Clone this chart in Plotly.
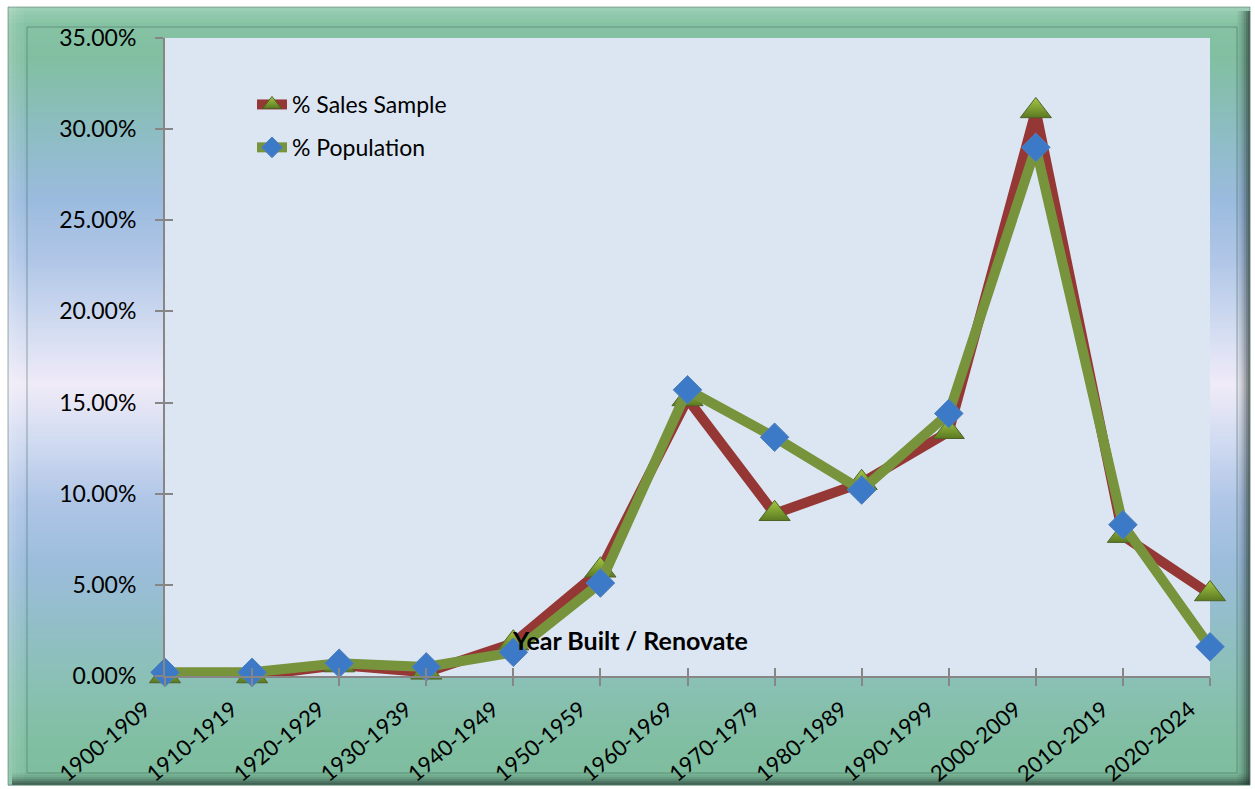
import plotly.graph_objects as go

# Year built / renovated buckets
categories = ["1900-1909", "1910-1919", "1920-1929", "1930-1939", "1940-1949",
              "1950-1959", "1960-1969", "1970-1979", "1980-1989", "1990-1999",
              "2000-2009", "2010-2019", "2020-2024"]

# Share of each bucket, in percent
sales_sample = [0.0, 0.0, 0.6, 0.2, 1.8, 5.8, 15.2, 8.9, 10.6, 13.4, 31.0, 7.7, 4.5]
population = [0.2, 0.2, 0.7, 0.5, 1.3, 5.1, 15.7, 13.1, 10.2, 14.4, 29.0, 8.3, 1.6]

y_ticks = [0, 5, 10, 15, 20, 25, 30, 35]

W, H = 1255, 789
ML, MR, MT, MB = 165, 45, 38, 113
PW, PH = W - ML - MR, H - MT - MB


def px(x):
    return (x - ML) / PW


def py(y):
    return (H - MB - y) / PH


def hex2rgb(h):
    h = h.lstrip("#")
    return tuple(int(h[i:i + 2], 16) for i in (0, 2, 4))


# vertical colour stops for the chart frame background (pixel row, colour)
bg_stops = [(7, "#86c4a4"), (60, "#82bfa2"), (130, "#8dbdc2"), (200, "#9bbbde"),
            (260, "#b0c6e7"), (330, "#d3dcf1"), (385, "#f0ebf8"), (440, "#d1dbf1"),
            (500, "#b0c6e7"), (560, "#9dbddd"), (620, "#93bec9"), (680, "#8ac0b5"),
            (740, "#81bfa3"), (786, "#7cbc9c")]


def bg_color(y):
    for (y0, c0), (y1, c1) in zip(bg_stops, bg_stops[1:]):
        if y0 <= y <= y1:
            t = (y - y0) / (y1 - y0)
            a, b = hex2rgb(c0), hex2rgb(c1)
            return "rgb(%d,%d,%d)" % tuple(round(a[i] + (b[i] - a[i]) * t) for i in range(3))
    return bg_stops[-1][1]


def rect(x0, y0, x1, y1, fill, line=None):
    return dict(type="rect", xref="paper", yref="paper", layer="below",
                x0=px(x0), x1=px(x1), y0=py(y1), y1=py(y0),
                fillcolor=fill, line=line or dict(width=0))


shapes = []
FX0, FY0, FX1, FY1 = 8, 7, 1250, 785
step = 3
y = FY0
while y < FY1:
    y2 = min(y + step, FY1)
    shapes.append(rect(FX0, y, FX1, y2 + 0.6, bg_color(y + step / 2)))
    y = y2

# bevel: light top/left edge, dark right/bottom edge
for i, a in enumerate([0.18, 0.12, 0.08, 0.05]):
    shapes.append(rect(FX0, FY0 + i * 4, FX1, FY0 + i * 4 + 4, "rgba(255,255,255,%.2f)" % a))
    shapes.append(rect(FX0 + i * 4, FY0, FX0 + i * 4 + 4, FY1, "rgba(255,255,255,%.2f)" % a))
for i, a in enumerate([0.05, 0.12, 0.22, 0.35, 0.5, 0.62]):
    xa = 1237 + i * 2.2
    shapes.append(rect(xa, FY0 + 4, xa + 2.2, FY1, "rgba(30,45,40,%.2f)" % a))
    ya = 773 + i * 2
    shapes.append(rect(FX0 + 4, ya, FX1, ya + 2, "rgba(30,45,40,%.2f)" % a))

# inner and outer frame lines
shapes.append(rect(27, 27, 1237, 773, "rgba(0,0,0,0)",
                   dict(color="rgba(70,110,95,0.55)", width=1)))
shapes.append(rect(FX0, FY0, FX1, FY1, "rgba(0,0,0,0)",
                   dict(color="rgba(90,120,110,0.6)", width=1)))
# plot area background
shapes.append(dict(type="rect", xref="paper", yref="paper", layer="below",
                   x0=0, x1=1, y0=0, y1=1, fillcolor="#dce6f2", line=dict(width=0)))

FONT = "Lato, 'Open Sans', sans-serif"

fig = go.Figure()
fig.add_trace(go.Scatter(
    x=categories, y=sales_sample, name="% Sales Sample", mode="lines+markers",
    line=dict(color="#953735", width=10),
    marker=dict(symbol="triangle-up", size=27, color="#a6c844",
                gradient=dict(type="vertical", color="#5b7a22"),
                line=dict(color="#4f6228", width=1)),
    cliponaxis=False, legendgroup="a"))
fig.add_trace(go.Scatter(
    x=categories, y=population, name="% Population", mode="lines+markers",
    line=dict(color="#77933c", width=10),
    marker=dict(symbol="diamond", size=22, color="#3c79c6",
                line=dict(color="#4f81bd", width=1)),
    cliponaxis=False, legendgroup="b"))
# carrier for the inner tick marks
fig.add_trace(go.Scatter(x=categories, y=[None] * len(categories), xaxis="x2", yaxis="y2",
                         showlegend=False, hoverinfo="skip", mode="lines"))

axis_common = dict(showgrid=False, zeroline=False, linecolor="#868686", linewidth=2,
                   tickcolor="#868686", tickwidth=2, automargin=False)

fig.update_layout(
    width=W, height=H,
    margin=dict(l=ML, r=MR, t=MT, b=MB, autoexpand=False),
    paper_bgcolor="white", plot_bgcolor="rgba(0,0,0,0)",
    font=dict(family=FONT, color="#000000"),
    shapes=shapes,
    showlegend=True,
    legend=dict(x=px(252), y=py(83), xanchor="left", yanchor="top",
                bgcolor="rgba(0,0,0,0)", font=dict(size=23, family=FONT),
                traceorder="grouped", tracegroupgap=10, itemsizing="trace"),
    xaxis=dict(type="category", categoryorder="array", categoryarray=categories,
               range=[0, len(categories) - 1], ticks="outside", ticklen=8,
               tickangle=-40, tickfont=dict(size=22, family=FONT),
               ticklabelshift=-20, ticklabelstandoff=2,
               showline=True, **axis_common),
    yaxis=dict(range=[0, 35], tickvals=y_ticks, ticktext=["%.2f%%" % v for v in y_ticks],
               ticks="outside", ticklen=8, tickfont=dict(size=23, family=FONT),
               ticklabelstandoff=14, showline=True, **axis_common),
    xaxis2=dict(type="category", categoryorder="array", categoryarray=categories,
                range=[0, len(categories) - 1], overlaying="x", anchor="y2", side="bottom",
                ticks="inside", ticklen=8, showticklabels=False, showline=False,
                showgrid=False, zeroline=False, tickcolor="#868686", tickwidth=2),
    yaxis2=dict(range=[0, 35], tickvals=y_ticks, overlaying="y", anchor="x2", side="left",
                ticks="inside", ticklen=8, showticklabels=False, showline=False,
                showgrid=False, zeroline=False, tickcolor="#868686", tickwidth=2),
    annotations=[dict(text="<b>Year Built / Renovate</b>", xref="paper", yref="paper",
                      x=px(630), y=py(640), xanchor="center", yanchor="middle",
                      showarrow=False, font=dict(size=25, family=FONT, color="#000000"))],
)

fig.write_html("out.html")
